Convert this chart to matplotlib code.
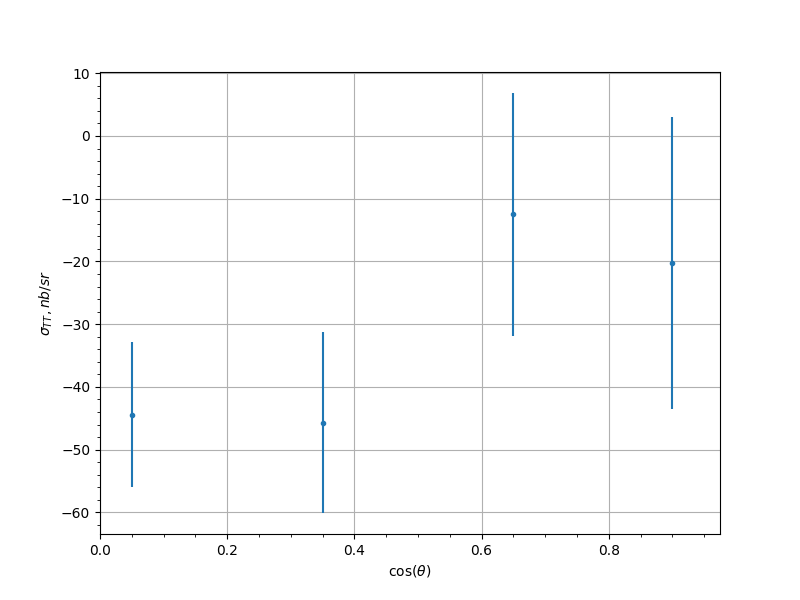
import matplotlib
matplotlib.use("Agg")
import matplotlib.pyplot as plt

cos_theta = [0.05, 0.35, 0.65, 0.9]
sigma_tt = [-44.4, -45.7, -12.5, -20.2]
sigma_err = [11.5, 14.4, 19.35, 23.25]

fig, ax = plt.subplots(figsize=(8, 6), dpi=100)
ax.errorbar(cos_theta, sigma_tt, yerr=sigma_err, fmt='.')
ax.set_xlim(0, 0.975)
ax.minorticks_on()
ax.grid(True, which='major')
ax.set_xlabel(r"$\cos(\theta)$")
ax.set_ylabel(r"$\sigma_{TT}, nb/sr$")
fig.savefig("out.png")
